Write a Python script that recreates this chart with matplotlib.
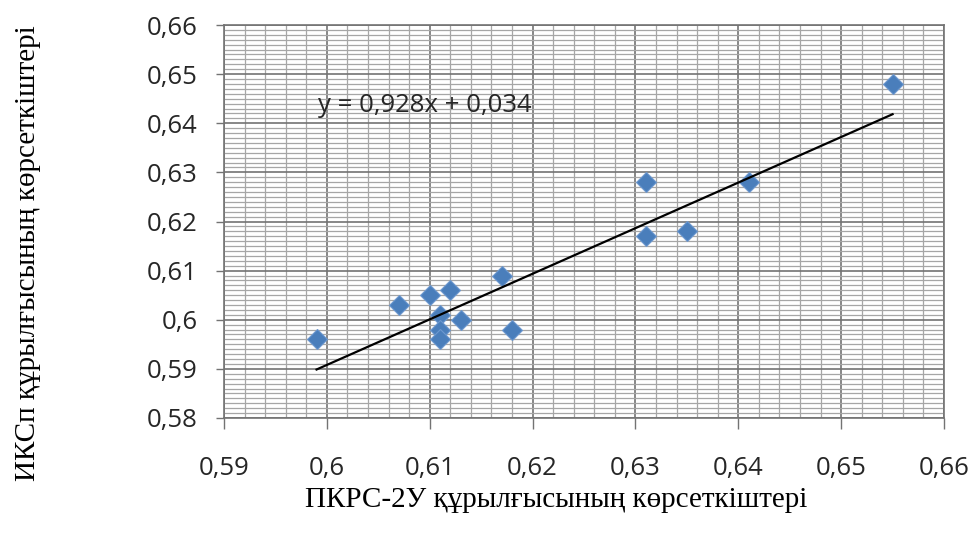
import numpy as np
import matplotlib
matplotlib.use("Agg")
import matplotlib.pyplot as plt
from matplotlib.ticker import MultipleLocator, FuncFormatter

# readings of the two devices
pkrs = [0.599, 0.607, 0.610, 0.612, 0.611, 0.611, 0.611, 0.613, 0.617, 0.618,
        0.631, 0.631, 0.635, 0.641, 0.655]
iksp = [0.596, 0.603, 0.605, 0.606, 0.601, 0.598, 0.596, 0.600, 0.609, 0.598,
        0.628, 0.617, 0.618, 0.628, 0.648]

# linear trend y = a*x + b
slope = 0.928
intercept = 0.034
eq_text = "y = 0,928x + 0,034"

xlabel = "ПКРС-2У құрылғысының көрсеткіштері"
ylabel = "ИКСп құрылғысының көрсеткіштері"

fig = plt.figure(figsize=(9.71, 5.33), dpi=100)
ax = fig.add_axes([224 / 971, 1 - 418 / 533, 720 / 971, 393 / 533])

ax.set_xlim(0.59, 0.66)
ax.set_ylim(0.58, 0.66)
ax.xaxis.set_major_locator(MultipleLocator(0.01))
ax.yaxis.set_major_locator(MultipleLocator(0.01))
ax.xaxis.set_minor_locator(MultipleLocator(0.002))
ax.yaxis.set_minor_locator(MultipleLocator(0.001))

ax.grid(True, which="major", color="#737373", lw=1.2)
ax.grid(True, which="minor", color="#a6a6a6", lw=0.9)
ax.set_axisbelow(True)

comma = FuncFormatter(lambda v, p: f"{round(v, 3):g}".replace(".", ","))
ax.xaxis.set_major_formatter(comma)
ax.yaxis.set_major_formatter(comma)

ax.tick_params(which="minor", length=0)
ax.tick_params(axis="x", which="major", length=8, width=1, color="#737373",
               pad=19, labelsize=18.5, labelcolor="#262626")
ax.tick_params(axis="y", which="major", length=6, width=1, color="#737373",
               pad=13, labelsize=18.5, labelcolor="#262626")
for lab in ax.get_xticklabels() + ax.get_yticklabels():
    lab.set_fontfamily("Open Sans")

for s in ax.spines.values():
    s.set_color("#737373")
    s.set_linewidth(1.2)

ax.plot(pkrs, iksp, "D", ms=10, color="#4a7ebb", mec="#6d98cf", mew=0.8,
        zorder=3, clip_on=False)

xt = np.array([min(pkrs), max(pkrs)])
ax.plot(xt, slope * xt + intercept, color="black", lw=1.6, zorder=4)

ax.text(0.5991, 0.6437, eq_text, fontsize=18.5, family="Open Sans",
        color="#262626", va="center", ha="left")

fig.text(556 / 971, 1 - 500 / 533, xlabel, ha="center", va="center",
         fontsize=21, family="Liberation Serif")
fig.text(28 / 971, 1 - 253 / 533, ylabel, ha="center", va="center",
         rotation=90, fontsize=21, family="Liberation Serif")

fig.savefig("out.png", dpi=100)
